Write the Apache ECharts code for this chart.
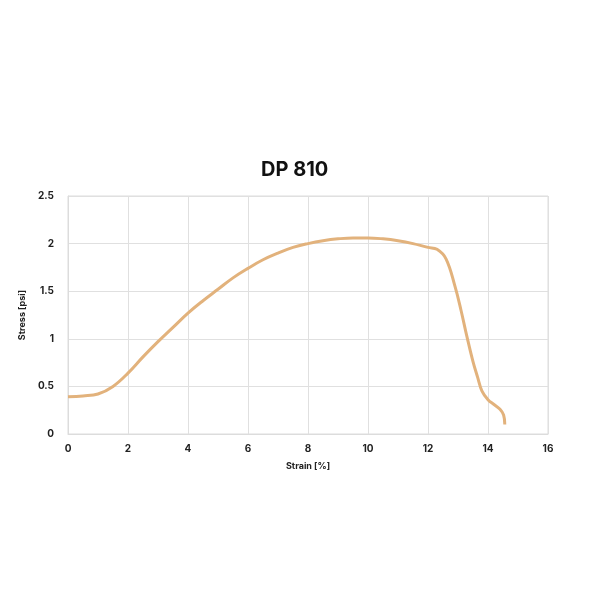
<!DOCTYPE html>
<html>
<head>
<meta charset="utf-8">
<script src="https://cdn.jsdelivr.net/npm/echarts@6/dist/echarts.min.js"></script>
<style>
html, body { margin: 0; padding: 0; background: #fff; }
#chart { width: 600px; height: 600px; }
</style>
</head>
<body>
<div id="chart"></div>
<script>
// strain [%] and stress [psi]
var strain = [0, 0.5, 1, 1.5, 2, 2.5, 3, 3.5, 4, 4.5, 5, 5.5, 6, 6.5, 7, 7.5, 8, 8.5, 9, 9.5, 10, 10.5, 11, 11.5, 12, 12.3, 12.6, 12.9, 13.1, 13.3, 13.5, 13.65, 13.8, 14, 14.2, 14.4, 14.52, 14.56];
var stress = [0.39, 0.4, 0.42, 0.5, 0.64, 0.81, 0.97, 1.12, 1.27, 1.4, 1.52, 1.64, 1.74, 1.83, 1.9, 1.96, 2.0, 2.03, 2.05, 2.06, 2.06, 2.05, 2.03, 2.0, 1.96, 1.94, 1.84, 1.55, 1.3, 1.02, 0.76, 0.6, 0.45, 0.36, 0.31, 0.26, 0.2, 0.1];
var xTicks = [0, 16, 2];
var yTicks = [0, 2.5, 0.5];

var points = strain.map(function (x, i) { return [x, stress[i]]; });
var font = 'Inter';
var chart = echarts.init(document.getElementById('chart'));
chart.setOption({
    backgroundColor: '#fff',
    title: {
        text: 'DP 810',
        left: 256,
        top: 155,
        textStyle: { fontFamily: font, fontWeight: 'bold', fontSize: 20, color: '#111' }
    },
    grid: {
        left: 68, right: 52, top: 196, bottom: 166,
        show: true, borderColor: '#dcdcdc', borderWidth: 1
    },
    xAxis: {
        type: 'value',
        min: xTicks[0], max: xTicks[1], interval: xTicks[2],
        name: 'Strain [%]',
        nameLocation: 'middle',
        nameGap: 28,
        nameTextStyle: { fontFamily: font, fontWeight: 'bold', fontSize: 9, color: '#222' },
        axisLine: { lineStyle: { color: '#dcdcdc' } },
        axisTick: { show: false },
        axisLabel: { fontFamily: font, fontWeight: 'bold', fontSize: 10, color: '#222', margin: 10 },
        splitLine: { lineStyle: { color: '#e0e0e0' } }
    },
    yAxis: {
        type: 'value',
        min: yTicks[0], max: yTicks[1], interval: yTicks[2],
        name: 'Stress [psi]',
        nameLocation: 'middle',
        nameGap: 33,
        nameTextStyle: { fontFamily: font, fontWeight: 'bold', fontSize: 9, color: '#222' },
        axisLine: { show: true, lineStyle: { color: '#dcdcdc' } },
        axisTick: { show: false },
        axisLabel: { fontFamily: font, fontWeight: 'bold', fontSize: 10, color: '#222', margin: 14 },
        splitLine: { lineStyle: { color: '#e0e0e0' } }
    },
    series: [{
        type: 'line',
        data: points,
        smooth: 0.4,
        showSymbol: false,
        lineStyle: { color: '#e2b27c', width: 3 }
    }]
});
</script>
</body>
</html>
